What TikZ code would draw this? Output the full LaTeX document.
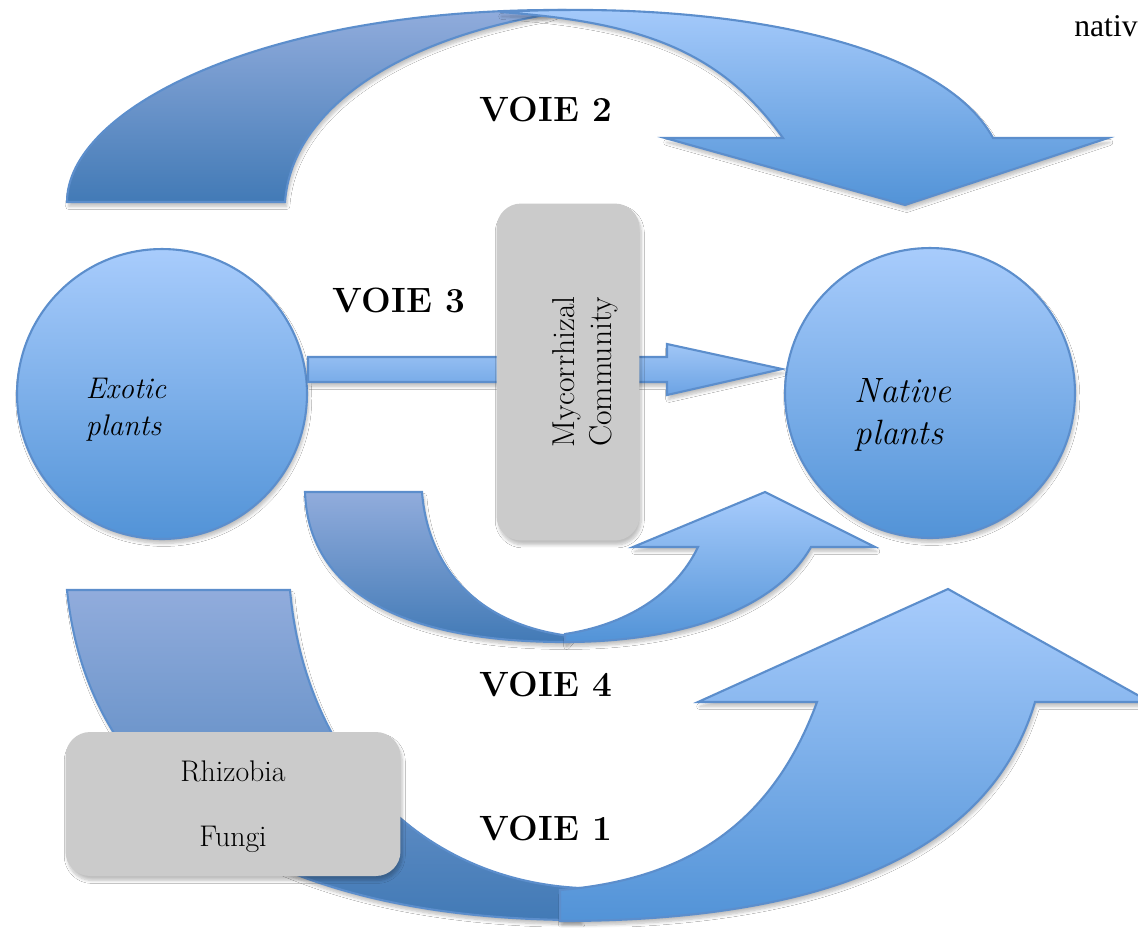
\documentclass[tikz,border=0pt]{standalone}
\usepackage{fontspec}
\newfontfamily\timesfont{Liberation Serif}
\usetikzlibrary{calc,shadows.blur,positioning}
\definecolor{edgeblue}{RGB}{92,142,204}
\definecolor{backtop}{RGB}{145,172,220}
\definecolor{backbot}{RGB}{66,122,182}
\definecolor{fronttop}{RGB}{168,204,252}
\definecolor{frontbot}{RGB}{82,147,215}
\definecolor{shafttop}{RGB}{160,198,246}
\definecolor{shaftbot}{RGB}{108,163,228}
\definecolor{boxgrey}{RGB}{203,203,203}

\begin{document}
\begin{tikzpicture}[x=0.02cm, y=-0.02cm,
    softshadow/.style={blur shadow={shadow xshift=1pt, shadow yshift=-2.5pt,
          shadow blur steps=6, shadow opacity=25}},
    ribbonback/.style={draw=edgeblue, line width=1.2pt, top color=backtop, bottom color=backbot, softshadow},
    ribbonfront/.style={draw=edgeblue, line width=1.2pt, top color=fronttop, bottom color=frontbot, softshadow},
    plant/.style={circle, draw=edgeblue, line width=1.2pt, minimum size=5.8cm, inner sep=0pt,
          top color=fronttop, bottom color=frontbot, softshadow},
    plantlbl/.style={align=left},
    greybox/.style={rounded corners=14pt, fill=boxgrey, inner sep=0pt, softshadow},
    voie/.style={font=\fontsize{20}{24}\selectfont\bfseries}]
  \path[use as bounding box, fill=white] (0,0) rectangle (1138,927);

  \path[ribbonback] (67,202) .. controls (67,110) and (260,9) .. (560,10) -- (545,15)
        .. controls (400,40) and (292,108) .. (285,202) -- cycle;
  \path[ribbonfront] (500,12) .. controls (720,0) and (940,40) .. (993,138) -- (1108,138)
        -- (905,205) -- (665,138) -- (783,138) .. controls (720,50) and (640,22) .. (500,12) -- cycle;

  \node[plant] (exotic) at (162,394) {};
  \node[plant] (native) at (930,393) {};

  \coordinate (v3tip) at (782,369);
  \path[ribbonfront, top color=shafttop, bottom color=shaftbot] ($(exotic.east)+(0,-37)$) -- (667,357)
        -- (667,344) -- (v3tip) -- (667,395) -- (667,382) -- ($(exotic.east)+(0,-12)$) -- cycle;

  \node[greybox, rotate=90, minimum width=6.74cm, minimum height=2.86cm] (myco) at (568,372) {};
  \node[rotate=90, align=center, font=\fontsize{18}{21}\selectfont] (mycolbl) at ($(myco)+(17,0)$)
        {Mycorrhizal\\Community};

  \path[ribbonback] (305,492) -- (422,492) .. controls (428,570) and (480,625) .. (570,636) -- (565,642)
        .. controls (400,642) and (308,590) .. (305,492) -- cycle;
  \path[ribbonfront] (565,634) .. controls (625,625) and (675,595) .. (698,547) -- (633,547) -- (765,492)
        -- (875,547) -- (811,547) .. controls (775,610) and (680,642) .. (565,642) -- cycle;

  \path[ribbonback] (67,590) -- (290,590) .. controls (305,760) and (420,880) .. (580,888) -- (580,920)
        .. controls (300,920) and (90,820) .. (67,590) -- cycle;
  \path[ribbonfront] (560,890) .. controls (680,880) and (770,830) .. (817,702) -- (698,702) -- (948,589)
        -- (1150,702) -- (1035,702) .. controls (985,870) and (790,921) .. (560,921) -- cycle;

  \node[greybox, minimum width=6.7cm, minimum height=2.88cm] (rhizo) at (233,804) {};
  \node[align=center, font=\fontsize{17}{37}\selectfont] (rhizolbl) at ($(rhizo)+(0,3)$) {Rhizobia\\Fungi};

  \node[plantlbl, font=\itshape\fontsize{17}{21}\selectfont] (exoticlbl) at ($(exotic)+(-36,16)$) {Exotic\\plants};
  \node[plantlbl, font=\itshape\fontsize{20}{24}\selectfont] (nativelbl) at ($(native)+(-27,22)$) {Native\\plants};

  \node[voie] (voie2) at (546,109) {VOIE 2};
  \node[voie] (voie3) at (399,300) {VOIE 3};
  \node[voie] (voie4) at (546,684) {VOIE 4};
  \node[voie] (voie1) at (546,828) {VOIE 1};
  \node[anchor=base west, inner sep=0pt, font=\timesfont\fontsize{18}{22}\selectfont] (nativ) at (1074,36) {nativ};
\end{tikzpicture}
\end{document}
